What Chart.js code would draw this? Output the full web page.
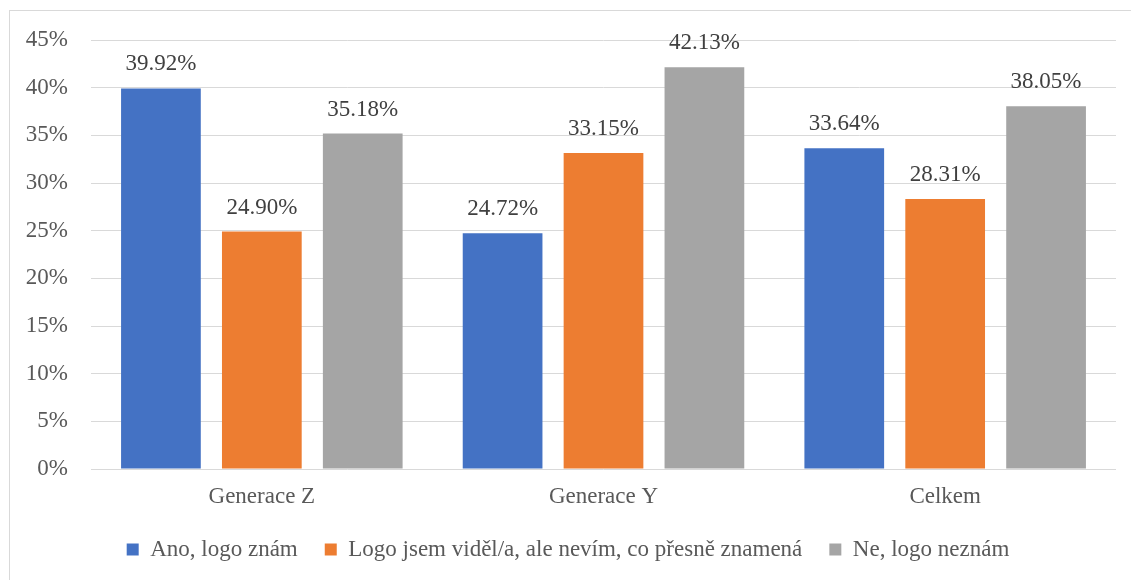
<!DOCTYPE html>
<html>
<head>
<meta charset="utf-8">
<script src="https://cdn.jsdelivr.net/npm/chart.js@4"></script>
<style>
  html, body { margin: 0; padding: 0; background: #fff; }
  #frame { position: absolute; left: 9px; top: 10px; width: 1130px; height: 580px;
           border-left: 1px solid #d9d9d9; border-top: 1px solid #d9d9d9; }
  #chart { position: absolute; left: 0; top: 0; }
</style>
</head>
<body>
<div id="frame"></div>
<canvas id="chart" width="1131" height="580"></canvas>
<script>
const categories = ['Generace Z', 'Generace Y', 'Celkem'];
const seriesNames = ['Ano, logo znám', 'Logo jsem viděl/a, ale nevím, co přesně znamená', 'Ne, logo neznám'];
const anoValues = [39.92, 24.72, 33.64];
const videlValues = [24.90, 33.15, 28.31];
const neValues = [35.18, 42.13, 38.05];
const yMax = 45;
const yStep = 5;

const fontFamily = '"Liberation Serif", "Times New Roman", serif';

// value labels above each bar
const barLabels = {
    id: 'barLabels',
    afterDatasetsDraw: function (chart) {
        const ctx = chart.ctx;
        ctx.save();
        ctx.font = '23px ' + fontFamily;
        ctx.fillStyle = '#404040';
        ctx.textAlign = 'center';
        ctx.textBaseline = 'middle';
        chart.data.datasets.forEach(function (ds, i) {
            chart.getDatasetMeta(i).data.forEach(function (bar, j) {
                ctx.fillText(ds.data[j].toFixed(2) + '%', bar.x, bar.y - 24);
            });
        });
        ctx.restore();
    }
};

new Chart(document.getElementById('chart').getContext('2d'), {
    type: 'bar',
    data: {
        labels: categories,
        datasets: [
            { label: seriesNames[0], data: anoValues, backgroundColor: '#4472C4' },
            { label: seriesNames[1], data: videlValues, backgroundColor: '#ED7D31' },
            { label: seriesNames[2], data: neValues, backgroundColor: '#A5A5A5' }
        ]
    },
    options: {
        responsive: false,
        animation: false,
        categoryPercentage: 0.886,
        barPercentage: 0.79,
        layout: { padding: { top: 40, right: 15, bottom: 9, left: 20 } },
        plugins: {
            legend: {
                position: 'bottom',
                labels: {
                    boxWidth: 12,
                    boxHeight: 12,
                    padding: 27,
                    color: '#595959',
                    font: { family: fontFamily, size: 23 }
                }
            },
            tooltip: { enabled: false }
        },
        scales: {
            x: {
                afterFit: function (scale) { scale.height = 42; },
                grid: { display: false, drawTicks: false },
                border: { display: false },
                ticks: { color: '#595959', padding: 14, font: { family: fontFamily, size: 23 } }
            },
            y: {
                min: 0,
                max: yMax,
                afterFit: function (scale) { scale.width = 71; },
                grid: { color: '#d9d9d9', drawTicks: false },
                border: { display: false },
                ticks: {
                    stepSize: yStep,
                    padding: 23,
                    color: '#595959',
                    font: { family: fontFamily, size: 23 },
                    callback: function (v) { return v + '%'; }
                }
            }
        }
    },
    plugins: [barLabels]
});
</script>
</body>
</html>
